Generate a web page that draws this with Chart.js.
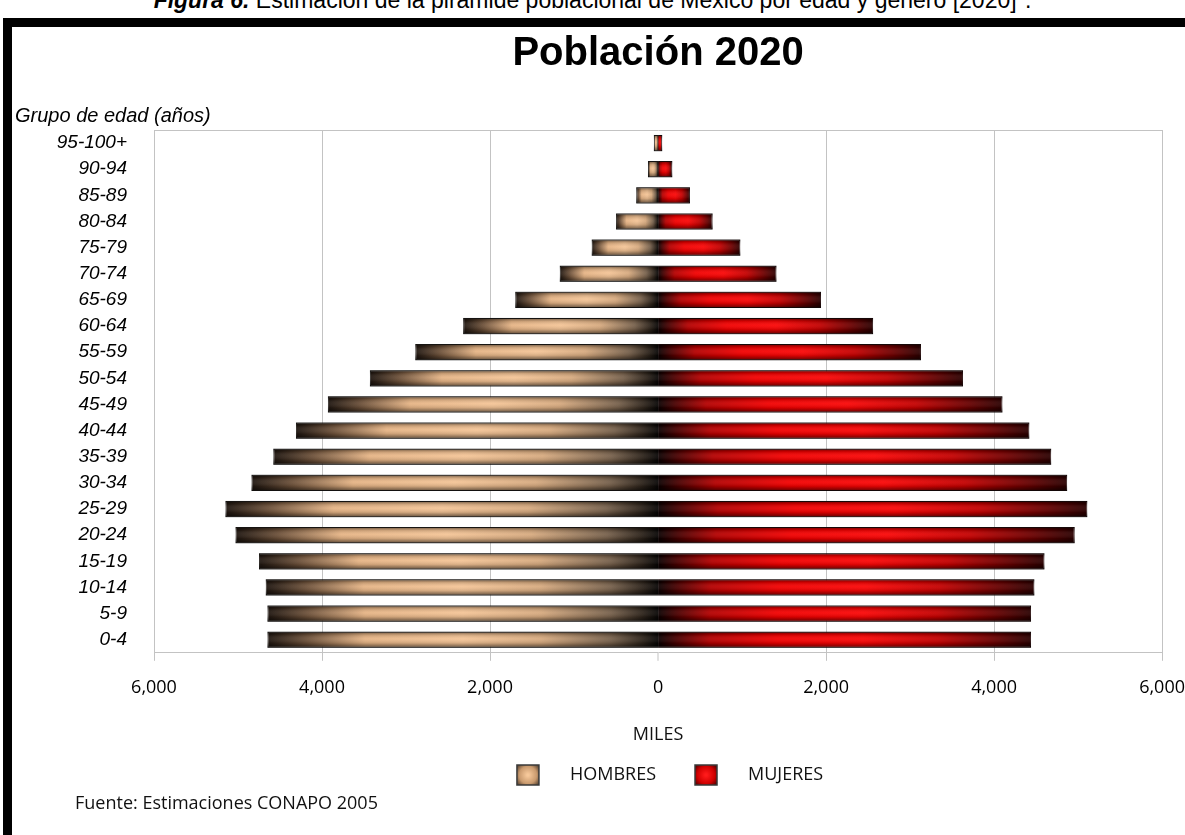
<!DOCTYPE html>
<html lang="es">
<head>
<meta charset="utf-8">
<title>Población 2020</title>
<script src="https://cdn.jsdelivr.net/npm/chart.js@4.4.1/dist/chart.umd.min.js"></script>
<style>
  html, body { margin: 0; padding: 0; background: #fff; overflow: hidden; }
  body { width: 1185px; height: 835px; position: relative; }
  #caption { position: absolute; left: 0; top: -11px; width: 1185px; text-align: center;
    font: 23px "Liberation Sans", Arial, sans-serif; line-height: 23px; white-space: nowrap; color: #000; }
  #caption sup { font-size: 15px; line-height: 0; }
  #frame { position: absolute; left: 3px; top: 18px; width: 1200px; height: 840px;
    border-top: 9px solid #000; border-left: 9px solid #000; }
  #wrap { position: absolute; left: 12px; top: 27px; }
  #fuente { position: absolute; left: 75px; top: 790px; font: 18px "Open Sans", sans-serif;
    line-height: 24px; color: #111; }
</style>
</head>
<body>
<div id="caption"><b><i>Figura 6.</i></b> Estimación de la pirámide poblacional de México por edad y género [2020]<sup>4</sup>.</div>
<div id="frame"></div>
<div id="wrap"><canvas id="grafica" width="1189" height="808"></canvas></div>
<div id="fuente">Fuente: Estimaciones CONAPO 2005</div>
<script>
// grupos de edad, de abajo hacia arriba
const grupos = ['0-4', '5-9', '10-14', '15-19', '20-24', '25-29', '30-34', '35-39', '40-44', '45-49',
  '50-54', '55-59', '60-64', '65-69', '70-74', '75-79', '80-84', '85-89', '90-94', '95-100+'];

// miles de personas
const hombres = [4650, 4650, 4670, 4750, 5030, 5150, 4840, 4580, 4310, 3930,
  3430, 2890, 2320, 1700, 1170, 790, 500, 260, 120, 50];
const mujeres = [4440, 4440, 4480, 4600, 4960, 5110, 4870, 4680, 4420, 4100,
  3630, 3130, 2560, 1940, 1410, 980, 650, 380, 170, 50];

const limiteX = 6000;
const pasoX = 2000;

// colores del degradado, desde el 0 hacia el extremo de la barra
const tonoHombres = [[0, '#070504'], [0.04, '#2e241b'], [0.12, '#76604b'], [0.3, '#d7aa7f'],
  [0.5, '#f4c496'], [0.75, '#e6b485'], [0.9, '#6c5039'], [1, '#1e150f']];
const tonoMujeres = [[0, '#0a0000'], [0.05, '#4a0000'], [0.14, '#b40000'], [0.32, '#f20000'],
  [0.55, '#fb0606'], [0.75, '#c40000'], [0.9, '#6a0000'], [1, '#2a0000']];
const tonoMuestras = [['#f6c89a', '#c99a6e', '#3e2e22'], ['#ff1a1a', '#d00000', '#3a0000']];

function degradado(ctx, tonos) {
  const chart = ctx.chart;
  const x = chart.scales.x;
  if (!chart.chartArea || !x) return tonos[4][1];
  const x0 = x.getPixelForValue(0);
  const x1 = x.getPixelForValue(ctx.raw);
  if (Math.abs(x1 - x0) < 1) return tonos[4][1];
  const g = chart.ctx.createLinearGradient(x0, 0, x1, 0);
  tonos.forEach(t => g.addColorStop(t[0], t[1]));
  return g;
}

// sombreado vertical de cada barra (efecto relieve)
const relieve = {
  id: 'relieve',
  afterDatasetsDraw(chart) {
    const ctx = chart.ctx;
    ctx.save();
    chart.getSortedVisibleDatasetMetas().forEach(meta => {
      meta.data.forEach(bar => {
        const p = bar.getProps(['x', 'y', 'base', 'height'], true);
        const top = p.y - p.height / 2;
        const g = ctx.createLinearGradient(0, top, 0, top + p.height);
        g.addColorStop(0, 'rgba(0,0,0,0.55)');
        g.addColorStop(0.2, 'rgba(0,0,0,0.15)');
        g.addColorStop(0.45, 'rgba(255,255,255,0.06)');
        g.addColorStop(0.7, 'rgba(0,0,0,0.12)');
        g.addColorStop(1, 'rgba(0,0,0,0.6)');
        ctx.fillStyle = g;
        ctx.fillRect(Math.min(p.x, p.base), top, Math.abs(p.x - p.base), p.height);
      });
    });
    ctx.restore();
  }
};

// cuadritos de la leyenda con degradado
const muestras = {
  id: 'muestras',
  afterDraw(chart) {
    const lg = chart.legend;
    if (!lg || !lg.legendHitBoxes) return;
    const ctx = chart.ctx;
    ctx.save();
    lg.legendHitBoxes.forEach((hb, i) => {
      const x = hb.left + 24, y = hb.top, w = 22, h = 20;
      const c = tonoMuestras[i];
      const g = ctx.createRadialGradient(x + w / 2, y + h / 2, 1, x + w / 2, y + h / 2, 15);
      g.addColorStop(0, c[0]);
      g.addColorStop(0.55, c[1]);
      g.addColorStop(1, c[2]);
      ctx.fillStyle = g;
      ctx.fillRect(x, y, w, h);
      ctx.strokeStyle = '#3a3a3a';
      ctx.lineWidth = 1.5;
      ctx.strokeRect(x, y, w, h);
    });
    ctx.restore();
  }
};

const esCero = c => c.tick && c.tick.value === 0;

new Chart(document.getElementById('grafica'), {
  type: 'bar',
  data: {
    labels: grupos,
    datasets: [
      {
        label: 'HOMBRES',
        data: hombres.map(v => -v),
        backgroundColor: c => degradado(c, tonoHombres),
        borderColor: '#2b2622',
        borderWidth: 1,
        borderSkipped: 'start',
        barPercentage: 0.62,
        categoryPercentage: 1
      },
      {
        label: 'MUJERES',
        data: mujeres,
        backgroundColor: c => degradado(c, tonoMujeres),
        borderColor: '#2b1010',
        borderWidth: 1,
        borderSkipped: 'start',
        barPercentage: 0.62,
        categoryPercentage: 1
      }
    ]
  },
  options: {
    indexAxis: 'y',
    responsive: false,
    animation: false,
    layout: { padding: { left: 3, right: 30, bottom: 40 } },
    scales: {
      x: {
        stacked: true,
        min: -limiteX,
        max: limiteX,
        ticks: {
          stepSize: pasoX,
          padding: 16,
          color: '#000',
          font: { family: 'Open Sans', size: 18 },
          callback: v => Math.abs(v).toLocaleString('en-US')
        },
        grid: {
          // sin linea de rejilla en el 0, solo la marquita bajo el eje
          color: c => esCero(c) ? 'rgba(0,0,0,0)' : '#c3c3c3',
          lineWidth: c => esCero(c) ? 0 : 1,
          tickColor: '#c3c3c3',
          tickWidth: 1,
          tickLength: 8
        },
        border: { color: '#c3c3c3' },
        title: {
          display: true,
          text: 'MILES',
          color: '#111',
          font: { family: 'Open Sans', size: 18 },
          padding: { top: 10, bottom: 4 }
        }
      },
      xTop: {
        type: 'linear',
        position: 'top',
        grid: { display: false, drawTicks: false },
        ticks: { display: false },
        border: { color: '#c3c3c3' }
      },
      y: {
        stacked: true,
        reverse: true,
        grid: { display: false, drawTicks: false },
        border: { display: false },
        ticks: {
          autoSkip: false,
          padding: 27,
          color: '#000',
          font: { family: 'Liberation Sans', size: 19, style: 'italic' }
        },
        afterFit: s => { s.width = 139; }
      }
    },
    plugins: {
      title: {
        display: true,
        text: 'Población 2020',
        fullSize: false,
        color: '#000',
        font: { family: 'Liberation Sans', size: 40, weight: 'bold' },
        padding: { top: 3, bottom: 0 }
      },
      subtitle: {
        display: true,
        text: 'Grupo de edad (años)',
        align: 'start',
        color: '#000',
        font: { family: 'Liberation Sans', size: 20, style: 'italic' },
        padding: { top: 26, bottom: 2 }
      },
      legend: {
        position: 'bottom',
        fullSize: false,
        labels: {
          boxWidth: 68,
          boxHeight: 20,
          padding: 15,
          color: '#111',
          font: { family: 'Open Sans', size: 18 },
          generateLabels: chart => chart.data.datasets.map((ds, i) => ({
            text: ds.label,
            fillStyle: 'rgba(0,0,0,0)',
            strokeStyle: 'rgba(0,0,0,0)',
            lineWidth: 0,
            hidden: false,
            datasetIndex: i,
            fontColor: '#111'
          }))
        }
      },
      tooltip: { enabled: false }
    }
  },
  plugins: [relieve, muestras]
});
</script>
</body>
</html>
